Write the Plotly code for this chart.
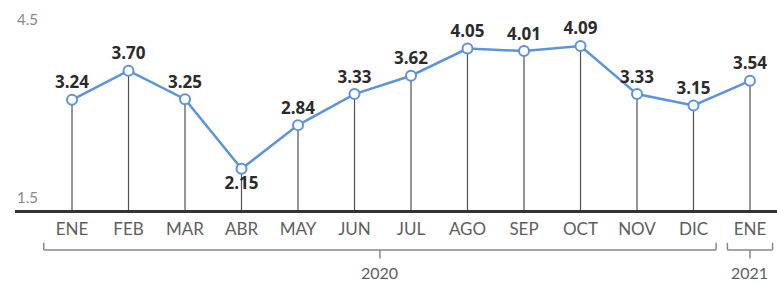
import plotly.graph_objects as go

months = ["ENE", "FEB", "MAR", "ABR", "MAY", "JUN", "JUL", "AGO", "SEP", "OCT", "NOV", "DIC", "ENE"]
values = [3.24, 3.70, 3.25, 2.15, 2.84, 3.33, 3.62, 4.05, 4.01, 4.09, 3.33, 3.15, 3.54]
label_pos = ["top center"] * 3 + ["bottom center"] + ["top center"] * 9
y_min, y_max = 1.5, 4.5
years = ["2020", "2021"]

idx = list(range(len(months)))
blue = "#5b93dd"

fig = go.Figure()

# vertical drop lines from each point to the baseline
fig.add_trace(go.Scatter(
    x=idx, y=values, mode="markers",
    marker=dict(size=1, color="rgba(0,0,0,0)"),
    error_y=dict(type="data", symmetric=False,
                 array=[0] * len(values),
                 arrayminus=[v - y_min for v in values],
                 color="#505050", thickness=1.2, width=0),
    hoverinfo="skip", showlegend=False,
))

fig.add_trace(go.Scatter(
    x=idx, y=values, mode="lines+markers+text",
    line=dict(color=blue, width=2.5),
    marker=dict(size=10, color="white", line=dict(color=blue, width=2)),
    text=[f"{v:.2f}" for v in values],
    textposition=label_pos,
    textfont=dict(family="Open Sans", size=17, color="#2b2b2b", weight="bold"),
    showlegend=False, cliponaxis=False,
))

fig.update_layout(
    width=777, height=284,
    margin=dict(l=15, r=0, t=20, b=74),
    plot_bgcolor="white", paper_bgcolor="white",
    xaxis=dict(
        range=[-1.009, 12.478], tickvals=idx, ticktext=months,
        showgrid=False, zeroline=False, showline=True,
        linecolor="#333333", linewidth=2.5, ticks="",
        ticklabelstandoff=2,
        tickfont=dict(family="Lato", size=17, color="#5e5e5e"),
    ),
    yaxis=dict(range=[y_min, y_max], showgrid=False, zeroline=False,
               showticklabels=False, showline=False),
)

# y-axis extremes as labels
for val, shift in [(y_max, 1), (y_min, 13)]:
    fig.add_annotation(x=0, xref="paper", y=val, yref="y", yshift=shift,
                       text=str(val), showarrow=False, xanchor="left",
                       font=dict(family="Lato", size=15, color="#888888"))

# year brackets
brk_col = "#888888"
brackets = [(-0.5, 11.4, years[0]), (11.6, 12.4, years[1])]
y_line, y_end, y_tick = -0.21, -0.173, -0.255
for x0, x1, yr in brackets:
    xc = (x0 + x1) / 2
    for sx0, sy0, sx1, sy1 in [(x0, y_line, x1, y_line), (x0, y_line, x0, y_end),
                               (x1, y_line, x1, y_end), (xc, y_line, xc, y_tick)]:
        fig.add_shape(type="line", xref="x", yref="paper",
                      x0=sx0, y0=sy0, x1=sx1, y1=sy1,
                      line=dict(color=brk_col, width=1.5))
    fig.add_annotation(x=xc, xref="x", y=-0.33, yref="paper", text=yr,
                       showarrow=False, yanchor="middle",
                       font=dict(family="Lato", size=16, color="#5e5e5e"))

fig.write_html("out.html", config={"displayModeBar": False},
               post_script="document.body.style.margin='0';")
